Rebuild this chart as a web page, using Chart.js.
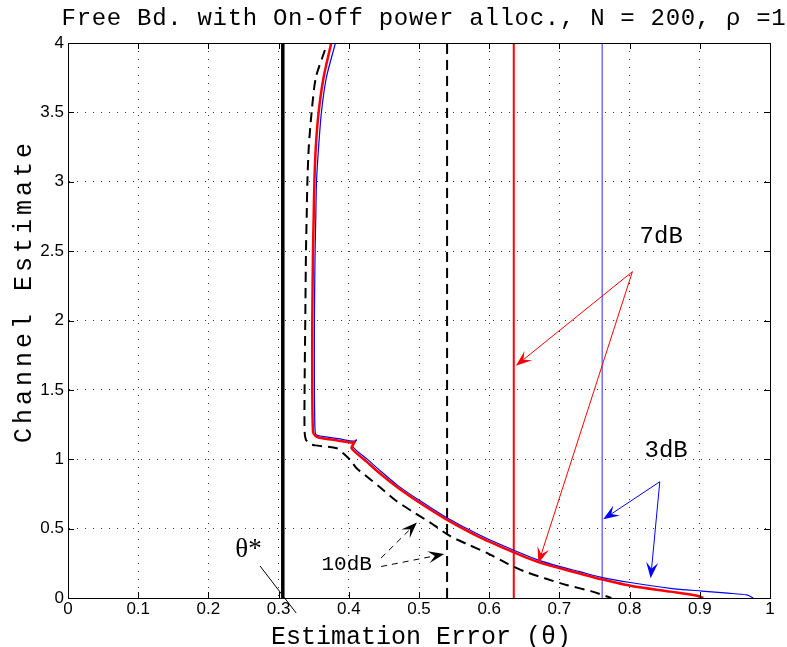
<!DOCTYPE html>
<html lang="en">
<head>
    <meta charset="UTF-8">
    <title>Free Bd. with On-Off power alloc.</title>
    <script src="https://cdn.jsdelivr.net/npm/chart.js"></script>
    <style>
        html, body { margin: 0; padding: 0; background: #fff; }
    </style>
</head>
<body>
    <canvas id="boundChart" width="787" height="647"></canvas>

    <script>
        // tick values / labels
        const xTickVals = [0, 0.1, 0.2, 0.3, 0.4, 0.5, 0.6, 0.7, 0.8, 0.9, 1];
        const xTickLabels = ['0', '0.1', '0.2', '0.3', '0.4', '0.5', '0.6', '0.7', '0.8', '0.9', '1'];
        const yTickVals = [0, 0.5, 1, 1.5, 2, 2.5, 3, 3.5, 4];
        const yTickLabels = ['0', '0.5', '1', '1.5', '2', '2.5', '3', '3.5', '4'];

        // 7dB bound (red)
        const redX = [0.375, 0.364, 0.357, 0.353, 0.351, 0.350, 0.349, 0.348, 0.348, 0.349, 0.352, 0.358, 0.380, 0.405, 0.408, 0.404, 0.425,
                      0.444, 0.470, 0.501, 0.539, 0.587, 0.636, 0.668, 0.701, 0.729, 0.760, 0.803, 0.858, 0.895, 0.905];
        const redY = [4.0, 3.75, 3.5, 3.25, 3.0, 2.75, 2.5, 2.0, 1.5, 1.2, 1.17, 1.155, 1.138, 1.12, 1.125, 1.08, 0.985,
                      0.899, 0.795, 0.687, 0.567, 0.437, 0.327, 0.262, 0.214, 0.176, 0.135, 0.086, 0.046, 0.018, 0.0];

        // 3dB bound (blue)
        const blueX = [0.381, 0.368, 0.361, 0.357, 0.354, 0.353, 0.352, 0.351, 0.351, 0.352, 0.354, 0.362, 0.385, 0.408, 0.411, 0.406, 0.427,
                       0.446, 0.470, 0.501, 0.539, 0.587, 0.636, 0.668, 0.701, 0.729, 0.760, 0.803, 0.858, 0.903, 0.940, 0.967, 0.976];
        const blueY = [4.0, 3.75, 3.5, 3.25, 3.0, 2.75, 2.5, 2.0, 1.5, 1.2, 1.175, 1.165, 1.148, 1.13, 1.14, 1.09, 0.997,
                       0.912, 0.81, 0.702, 0.58, 0.452, 0.342, 0.277, 0.226, 0.19, 0.149, 0.11, 0.07, 0.05, 0.035, 0.022, 0.0];

        // 10dB bound (black dashed)
        const dashX = [0.366, 0.353, 0.347, 0.343, 0.341, 0.340, 0.339, 0.338, 0.337, 0.337, 0.339, 0.345, 0.352, 0.383, 0.392, 0.402, 0.411,
                       0.423, 0.444, 0.466, 0.490, 0.516, 0.544, 0.570, 0.596, 0.625, 0.651, 0.679, 0.710, 0.746, 0.774];
        const dashY = [3.95, 3.75, 3.5, 3.25, 3.0, 2.75, 2.5, 2.0, 1.5, 1.2, 1.14, 1.11, 1.10, 1.079, 1.043, 0.995, 0.935,
                       0.886, 0.80, 0.706, 0.625, 0.543, 0.447, 0.385, 0.327, 0.25, 0.19, 0.142, 0.094, 0.048, 0.0];

        // vertical lines (x positions)
        const thetaStarX = 0.306;
        const dashVX = 0.54;
        const redVX = 0.635;
        const blueVX = 0.761;

        const yMin = 0, yMax = 4;

        // arrows in data units: [x1, y1, x2, y2]
        const redArrows = [[0.804, 2.352, 0.638, 1.674], [0.804, 2.352, 0.670, 0.25]];
        const blueArrows = [[0.843, 0.838, 0.7625, 0.567], [0.843, 0.838, 0.830, 0.142]];
        const blackArrows = [[0.446, 0.288, 0.497, 0.544], [0.446, 0.227, 0.536, 0.317]];

        const pts = (xs, ys) => xs.map((v, i) => ({ x: v, y: ys[i] }));
        const vline = x => [{ x: x, y: yMin }, { x: x, y: yMax }];

        function drawArrow(ctx, x1, y1, x2, y2, color, dash) {
            const ang = Math.atan2(y2 - y1, x2 - x1);
            const L = 16, W = 6;
            ctx.save();
            ctx.strokeStyle = color;
            ctx.fillStyle = color;
            ctx.lineWidth = 1;
            ctx.setLineDash(dash || []);
            ctx.beginPath();
            ctx.moveTo(x1, y1);
            ctx.lineTo(x2 - Math.cos(ang) * L * 0.6, y2 - Math.sin(ang) * L * 0.6);
            ctx.stroke();
            ctx.setLineDash([]);
            ctx.translate(x2, y2);
            ctx.rotate(ang);
            ctx.beginPath();
            ctx.moveTo(0, 0);
            ctx.lineTo(-L, -W);
            ctx.lineTo(-L * 0.6, 0);
            ctx.lineTo(-L, W);
            ctx.closePath();
            ctx.fill();
            ctx.restore();
        }

        function drawText(ctx, str, x, y, font, spacing, align) {
            ctx.save();
            ctx.font = font;
            ctx.fillStyle = '#000';
            ctx.textAlign = align || 'center';
            ctx.textBaseline = 'alphabetic';
            if ('letterSpacing' in ctx) ctx.letterSpacing = (spacing || 0) + 'px';
            ctx.fillText(str, x, y);
            ctx.restore();
        }

        const decorations = {
            id: 'decorations',
            afterDraw(chart) {
                const { ctx, chartArea: a, scales: { x, y } } = chart;
                ctx.save();

                // full box + inward ticks
                ctx.strokeStyle = '#000';
                ctx.lineWidth = 1;
                ctx.beginPath();
                ctx.moveTo(Math.round(a.left) + 0.5, Math.round(a.top) + 0.5);
                ctx.lineTo(Math.round(a.right) + 0.5, Math.round(a.top) + 0.5);
                ctx.lineTo(Math.round(a.right) + 0.5, Math.round(a.bottom) + 0.5);
                ctx.stroke();
                ctx.beginPath();
                xTickVals.forEach(v => {
                    const px = Math.round(x.getPixelForValue(v)) + 0.5;
                    ctx.moveTo(px, a.bottom); ctx.lineTo(px, a.bottom - 6);
                    ctx.moveTo(px, a.top); ctx.lineTo(px, a.top + 6);
                });
                yTickVals.forEach(v => {
                    const py = Math.round(y.getPixelForValue(v)) + 0.5;
                    ctx.moveTo(a.left, py); ctx.lineTo(a.left + 6, py);
                    ctx.moveTo(a.right, py); ctx.lineTo(a.right - 6, py);
                });
                ctx.stroke();

                // arrows
                const P = (vx, vy) => [x.getPixelForValue(vx), y.getPixelForValue(vy)];
                redArrows.forEach(r => drawArrow(ctx, ...P(r[0], r[1]), ...P(r[2], r[3]), '#ff0000'));
                blueArrows.forEach(r => drawArrow(ctx, ...P(r[0], r[1]), ...P(r[2], r[3]), '#0000ff'));
                blackArrows.forEach(r => drawArrow(ctx, ...P(r[0], r[1]), ...P(r[2], r[3]), '#000000', [6, 5]));

                // theta* pointer
                ctx.strokeStyle = '#000';
                ctx.lineWidth = 1;
                ctx.beginPath();
                ctx.moveTo(...P(0.2735, 0.231));
                ctx.lineTo(...P(0.325, -0.108));
                ctx.stroke();

                // in-plot labels
                const mono = '"Liberation Mono", "Courier New", monospace';
                drawText(ctx, '7dB', ...P(0.845, 2.56), '24px ' + mono, 0);
                drawText(ctx, '3dB', ...P(0.852, 1.014), '24px ' + mono, 0);
                drawText(ctx, '10dB', ...P(0.397, 0.202), '21px ' + mono, 0);
                drawText(ctx, 'θ*', ...P(0.257, 0.298), '27px "Liberation Serif", serif', 0);

                // title and axis titles
                drawText(ctx, 'Free Bd. with On-Off power alloc., N = 200, ρ =1', 424, 25, '24px ' + mono, 0.7);
                drawText(ctx, 'Estimation Error (θ)', 421, 644, '25px ' + mono, 0);

                ctx.save();
                ctx.translate(31, 291);
                ctx.rotate(-Math.PI / 2);
                drawText(ctx, 'Channel Estimate', 0, 0, '25px ' + mono, 4);
                ctx.restore();

                ctx.restore();
            }
        };

        const tickFont = { family: 'Liberation Sans', size: 17 };

        new Chart(document.getElementById('boundChart').getContext('2d'), {
            type: 'scatter',
            data: {
                datasets: [
                    { data: pts(redX, redY), borderColor: '#ff0000', borderWidth: 2.5, tension: 0.25, order: 1 },
                    { data: pts(blueX, blueY), borderColor: '#0000ff', borderWidth: 1.2, tension: 0.25, order: 2 },
                    { data: pts(dashX, dashY), borderColor: '#000000', borderWidth: 2, borderDash: [10, 6], tension: 0.25, order: 3 },
                    { data: vline(thetaStarX), borderColor: '#000000', borderWidth: 3.5, order: 4 },
                    { data: vline(dashVX), borderColor: '#000000', borderWidth: 2, borderDash: [10, 6], order: 5 },
                    { data: vline(redVX), borderColor: '#ff0000', borderWidth: 2, order: 6 },
                    { data: vline(blueVX), borderColor: '#6f6fff', borderWidth: 1.5, order: 7 }
                ].map(d => Object.assign({ showLine: true, pointRadius: 0, fill: false, tension: 0 }, d))
            },
            options: {
                responsive: false,
                animation: false,
                devicePixelRatio: 1,
                layout: { padding: { top: 43, right: 17, left: 0, bottom: 0 } },
                plugins: { legend: { display: false }, tooltip: { enabled: false }, title: { display: false } },
                scales: {
                    x: {
                        type: 'linear', min: 0, max: 1,
                        afterBuildTicks: s => { s.ticks = xTickVals.map(v => ({ value: v })); },
                        afterFit: s => { s.height = 49; },
                        ticks: { font: tickFont, color: '#000', padding: 1, maxRotation: 0, autoSkip: false,
                                 callback: (v, i) => xTickLabels[i] },
                        grid: { color: 'rgba(0,0,0,0.8)', lineWidth: 1, drawTicks: false },
                        border: { display: true, color: '#000', width: 1, dash: [1, 7] }
                    },
                    y: {
                        type: 'linear', min: yMin, max: yMax,
                        afterBuildTicks: s => { s.ticks = yTickVals.map(v => ({ value: v })); },
                        afterFit: s => { s.width = 68; },
                        ticks: { font: tickFont, color: '#000', padding: 4, autoSkip: false,
                                 callback: (v, i) => yTickLabels[i] },
                        grid: { color: 'rgba(0,0,0,0.8)', lineWidth: 1, drawTicks: false },
                        border: { display: true, color: '#000', width: 1, dash: [1, 7] }
                    }
                }
            },
            plugins: [decorations]
        });
    </script>
</body>
</html>
